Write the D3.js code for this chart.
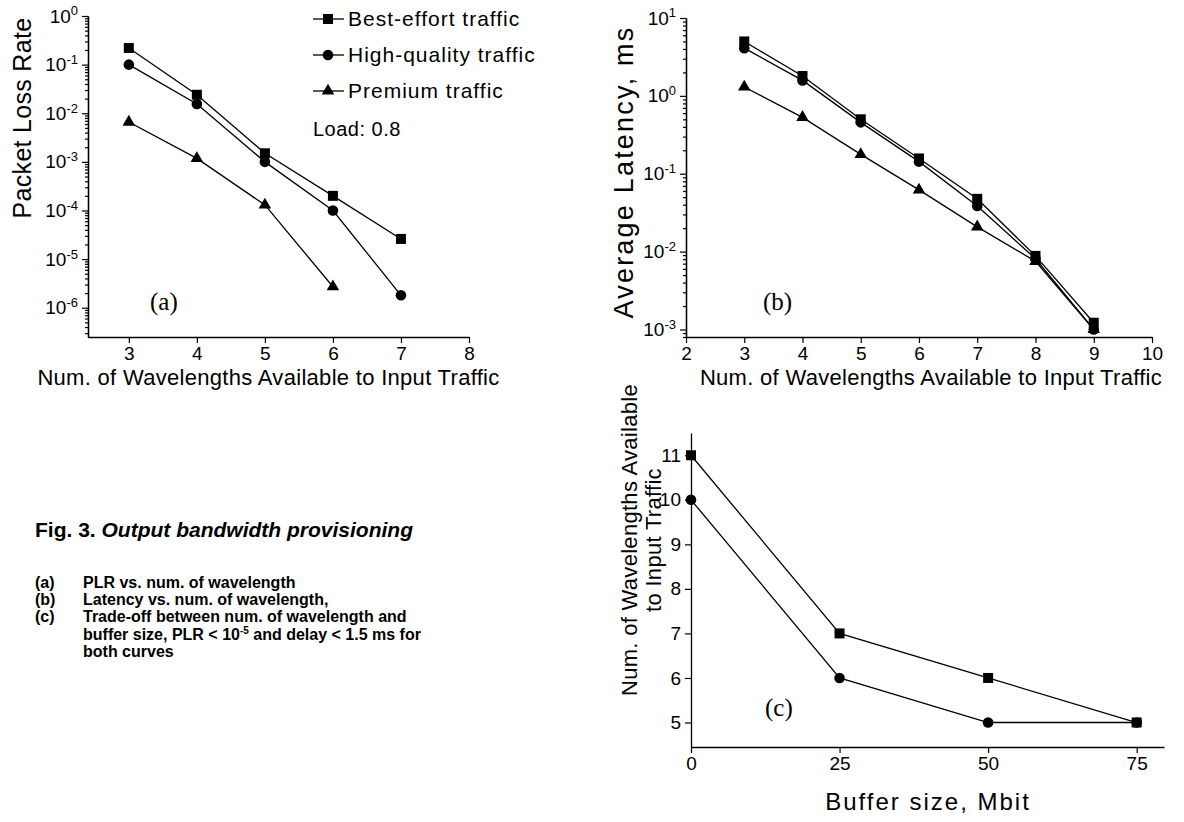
<!DOCTYPE html>
<html>
<head>
<meta charset="utf-8">
<script src="https://cdn.jsdelivr.net/npm/d3@7"></script>
<style>
  body { margin: 0; background: #fff; }
  svg { display: block; }
  text { font-family: Arial, "Liberation Sans", sans-serif; fill: #000; }
</style>
</head>
<body>
<div id="chart"></div>
<script>
// ---- data ----
const wavelengthsA = [3, 4, 5, 6, 7];
const plrBestEffort = [0.22, 0.024, 1.5e-3, 2.0e-4, 2.6e-5];
const plrHighQuality = [0.1, 0.0155, 1.0e-3, 1.0e-4, 1.8e-6];
const wavelengthsPremiumA = [3, 4, 5, 6];
const plrPremium = [6.6e-3, 1.18e-3, 1.3e-4, 2.7e-6];

const wavelengthsB = [3, 4, 5, 6, 7, 8, 9];
const latBestEffort = [5.0, 1.8, 0.5, 0.157, 0.0476, 0.0088, 0.00122];
const latHighQuality = [4.1, 1.58, 0.457, 0.143, 0.0386, 0.0081, 0.001];
const latPremium = [1.3, 0.53, 0.177, 0.062, 0.0208, 0.0075, 0.001];

const bufferSizes = [0, 25, 50, 75];
const wlBestEffort = [11, 7, 6, 5];
const wlHighQuality = [10, 6, 5, 5];

const legendLabels = ["Best-effort traffic", "High-quality traffic", "Premium traffic"];
const ticksXA = [3, 4, 5, 6, 7, 8];
const ticksYA = [1, 1e-1, 1e-2, 1e-3, 1e-4, 1e-5, 1e-6];
const ticksXB = [2, 3, 4, 5, 6, 7, 8, 9, 10];
const ticksYB = [10, 1, 1e-1, 1e-2, 1e-3];
const ticksXC = [0, 25, 50, 75];
const ticksYC = [5, 6, 7, 8, 9, 10, 11];

const svg = d3.select("#chart").append("svg")
  .attr("width", 1184).attr("height", 822);

// minor ticks for a log axis
function minorTicks(domain) {
  const out = [];
  const lo = Math.floor(Math.log10(domain[0]));
  const hi = Math.ceil(Math.log10(domain[1]));
  for (let e = lo; e <= hi; e++) {
    for (let m = 2; m <= 9; m++) {
      const v = m * Math.pow(10, e);
      if (v >= domain[0] && v <= domain[1]) out.push(v);
    }
  }
  return out;
}

function styleAxis(g) {
  g.select(".domain").attr("stroke", "#000").attr("stroke-width", 1.3);
  g.selectAll(".tick line").attr("stroke", "#000").attr("stroke-width", 1.2);
  g.selectAll(".tick text").style("font-size", "19px").attr("fill", "#000");
}

function powerLabels(g) {
  g.selectAll(".tick text").each(function (d) {
    const t = d3.select(this);
    t.text("10");
    t.append("tspan").attr("dy", "-0.55em").style("font-size", "13px")
      .text(String(Math.round(Math.log10(d))));
  });
}

function marker(g, type, x, y) {
  const sym = type === "square" ? d3.symbolSquare
    : type === "circle" ? d3.symbolCircle : d3.symbolTriangle;
  const size = type === "square" ? 100 : type === "circle" ? 88 : 68;
  g.append("path")
    .attr("d", d3.symbol().type(sym).size(size)())
    .attr("transform", `translate(${x},${y})`)
    .attr("fill", "#000");
}

function series(g, xs, ys, x, y, type) {
  const pts = xs.map((d, i) => [x(d), y(ys[i])]);
  g.append("path")
    .attr("d", d3.line()(pts))
    .attr("fill", "none").attr("stroke", "#000").attr("stroke-width", 1.3);
  pts.forEach(p => marker(g, type, p[0], p[1]));
}

function logPanel(opt) {
  const g = svg.append("g");
  const x = d3.scaleLinear().domain(opt.xDomain).range(opt.xRange);
  const y = d3.scaleLog().domain(opt.yDomain).range(opt.yRange);

  // minor ticks
  g.append("g").attr("transform", `translate(${opt.xRange[0]},0)`)
    .call(d3.axisLeft(y).tickValues(minorTicks(opt.yDomain)).tickFormat("").tickSize(3).tickSizeOuter(0))
    .call(styleAxis);

  g.append("g").attr("transform", `translate(${opt.xRange[0]},0)`)
    .call(d3.axisLeft(y).tickValues(opt.yTicks).tickSize(6).tickPadding(4).tickSizeOuter(0))
    .call(styleAxis).call(powerLabels);

  g.append("g").attr("transform", `translate(0,${opt.yRange[0]})`)
    .call(d3.axisBottom(x).tickValues(opt.xTicks).tickFormat(d3.format("d")).tickSize(6).tickPadding(4).tickSizeOuter(0))
    .call(styleAxis);

  opt.series.forEach(s => series(g, s.xs, s.ys, x, y, s.type));

  g.append("text")
    .attr("transform", `translate(${opt.yTitlePos[0]},${opt.yTitlePos[1]}) rotate(-90)`)
    .attr("text-anchor", "middle").style("font-size", opt.yTitleSize)
    .style("letter-spacing", opt.yTitleSpacing)
    .text(opt.yTitle);
  g.append("text")
    .attr("x", (opt.xRange[0] + opt.xRange[1]) / 2 + opt.xTitleShift).attr("y", opt.yRange[0] + 48)
    .attr("text-anchor", "middle").style("font-size", "22px").style("letter-spacing", "0.3px")
    .text("Num. of Wavelengths Available to Input Traffic");
  g.append("text")
    .attr("x", opt.tag[0]).attr("y", opt.tag[1])
    .style("font-family", "'Times New Roman', 'Liberation Serif', serif").style("font-size", "25px")
    .text(opt.tag[2]);
  return { g, x, y };
}

// ---- panel (a) ----
logPanel({
  xDomain: [2.4, 8], xRange: [88, 469],
  yDomain: [2.5e-7, 1], yRange: [337, 16],
  xTicks: ticksXA, yTicks: ticksYA,
  series: [
    { xs: wavelengthsA, ys: plrBestEffort, type: "square" },
    { xs: wavelengthsA, ys: plrHighQuality, type: "circle" },
    { xs: wavelengthsPremiumA, ys: plrPremium, type: "triangle" }
  ],
  yTitle: "Packet Loss Rate", yTitlePos: [31, 118],
  yTitleSize: "25px", yTitleSpacing: "0.3px",
  xTitleShift: -10,
  tag: [150, 310, "(a)"]
});

// legend
const legTypes = ["square", "circle", "triangle"];
const leg = svg.append("g");
legendLabels.forEach((lab, i) => {
  const yy = 19 + i * 36;
  leg.append("line").attr("x1", 313).attr("x2", 344).attr("y1", yy).attr("y2", yy)
    .attr("stroke", "#000").attr("stroke-width", 1.3);
  marker(leg, legTypes[i], 328, yy);
  leg.append("text").attr("x", 348).attr("y", yy + 7).style("font-size", "21px")
    .style("letter-spacing", "1px").text(lab);
});
leg.append("text").attr("x", 313).attr("y", 136).style("font-size", "20px")
  .style("letter-spacing", "0.5px").text("Load: 0.8");

// ---- panel (b) ----
logPanel({
  xDomain: [2, 10], xRange: [686, 1152],
  yDomain: [8e-4, 10], yRange: [337, 18],
  xTicks: ticksXB, yTicks: ticksYB,
  series: [
    { xs: wavelengthsB, ys: latBestEffort, type: "square" },
    { xs: wavelengthsB, ys: latHighQuality, type: "circle" },
    { xs: wavelengthsB, ys: latPremium, type: "triangle" }
  ],
  yTitle: "Average Latency, ms", yTitlePos: [633, 172],
  yTitleSize: "27px", yTitleSpacing: "2.2px",
  xTitleShift: 12,
  tag: [763, 310, "(b)"]
});

// ---- panel (c) ----
const gc = svg.append("g");
const xc = d3.scaleLinear().domain([0, 79.6]).range([691, 1164]);
const yc = d3.scaleLinear().domain([4.45, 11.5]).range([747, 433]);
gc.append("g").attr("transform", "translate(691,0)")
  .call(d3.axisLeft(yc).tickValues(ticksYC).tickFormat(d3.format("d")).tickSize(6).tickPadding(4).tickSizeOuter(0))
  .call(styleAxis);
gc.append("g").attr("transform", "translate(0,747)")
  .call(d3.axisBottom(xc).tickValues(ticksXC).tickFormat(d3.format("d")).tickSize(6).tickPadding(4).tickSizeOuter(0))
  .call(styleAxis);
series(gc, bufferSizes, wlBestEffort, xc, yc, "square");
series(gc, bufferSizes, wlHighQuality, xc, yc, "circle");

const cTitle = gc.append("text")
  .attr("transform", "translate(637,540) rotate(-90)")
  .attr("text-anchor", "middle").style("font-size", "22px").style("letter-spacing", "0.3px");
cTitle.append("tspan").attr("x", 0).attr("dy", 0).text("Num. of Wavelengths Available");
cTitle.append("tspan").attr("x", 0).attr("dy", 24).text("to Input Traffic");
gc.append("text").attr("x", 928).attr("y", 810).attr("text-anchor", "middle")
  .style("font-size", "24px").style("letter-spacing", "2px").text("Buffer size, Mbit");
gc.append("text").attr("x", 765).attr("y", 716)
  .style("font-family", "'Times New Roman', 'Liberation Serif', serif").style("font-size", "25px")
  .text("(c)");

// ---- caption ----
const cap = svg.append("g").style("font-weight", "bold");
const fig = cap.append("text").attr("x", 35).attr("y", 537).style("font-size", "21px");
fig.append("tspan").text("Fig. 3. ");
fig.append("tspan").style("font-style", "italic").text("Output bandwidth provisioning");

const items = [
  ["(a)", "PLR vs. num. of wavelength"],
  ["(b)", "Latency vs. num. of wavelength,"],
  ["(c)", "Trade-off between num. of wavelength and"]
];
items.forEach((it, i) => {
  cap.append("text").attr("x", 35).attr("y", 588 + i * 17).style("font-size", "16px").text(it[0]);
  cap.append("text").attr("x", 83).attr("y", 588 + i * 17).style("font-size", "16px").text(it[1]);
});
const l4 = cap.append("text").attr("x", 83).attr("y", 639.5).style("font-size", "16px");
l4.append("tspan").text("buffer size, PLR < 10");
l4.append("tspan").attr("dy", -6).style("font-size", "10px").text("-5");
l4.append("tspan").attr("dy", 6).text(" and delay < 1.5 ms for");
cap.append("text").attr("x", 83).attr("y", 656.5).style("font-size", "16px").text("both curves");
</script>
</body>
</html>
